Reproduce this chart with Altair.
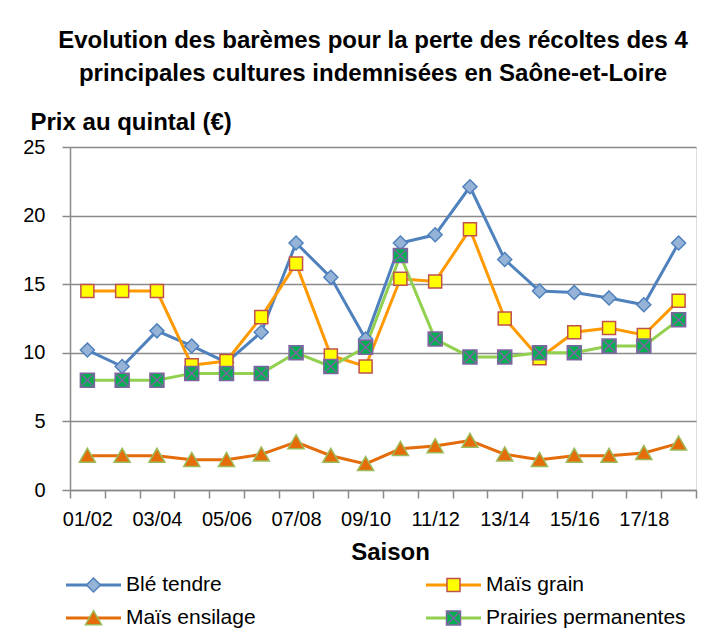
import altair as alt
import pandas as pd

# ---- data ----
seasons = ["01/02", "02/03", "03/04", "04/05", "05/06", "06/07", "07/08", "08/09", "09/10",
           "10/11", "11/12", "12/13", "13/14", "14/15", "15/16", "16/17", "17/18", "18/19"]
series_names = ["Blé tendre", "Maïs grain", "Maïs ensilage", "Prairies permanentes"]

ble_tendre = [10.2, 9.0, 11.6, 10.5, 9.3, 11.5, 18.0, 15.5, 11.0, 18.0, 18.6, 22.1, 16.8, 14.5, 14.4, 14.0, 13.5, 18.0]
mais_grain = [14.5, 14.5, 14.5, 9.1, 9.4, 12.6, 16.5, 9.8, 9.0, 15.4, 15.2, 19.0, 12.5, 9.6, 11.5, 11.8, 11.3, 13.8]
mais_ensilage = [2.5, 2.5, 2.5, 2.2, 2.2, 2.6, 3.5, 2.5, 1.9, 3.0, 3.2, 3.6, 2.6, 2.2, 2.5, 2.5, 2.7, 3.4]
prairies = [8.0, 8.0, 8.0, 8.5, 8.5, 8.5, 10.0, 9.0, 10.4, 17.1, 11.0, 9.7, 9.7, 10.0, 10.0, 10.5, 10.5, 12.4]

y_ticks = [0, 5, 10, 15, 20, 25]
shown_labels = seasons[::2]

# ---- styles ----
line_colors = ["#4F81BD", "#FF9900", "#E46C0A", "#92D050"]
marker_fills = ["#95B3D7", "#FFFF00", "#E46C0A", "#00B050"]
marker_strokes = ["#4F81BD", "#C0504D", "#9BBB59", "#8064A2"]
marker_paths = [
    "M0,-1L1,0L0,1L-1,0Z",
    "M-0.93,-0.93H0.93V0.93H-0.93Z",
    "M0,-1.05L1.15,0.95H-1.15Z",
    "M-1,-1H1V1H-1Z M-0.85,-0.85L0.85,0.85 M0.85,-0.85L-0.85,0.85",
]
GREY = "#8a8a8a"
FONT = "Liberation Sans"
LEG_FS = 21

values_by_series = [ble_tendre, mais_grain, mais_ensilage, prairies]
rows = []
for s_i, (name, vals) in enumerate(zip(series_names, values_by_series)):
    for t_i, (season, v) in enumerate(zip(seasons, vals)):
        rows.append({"season": season, "series": name, "value": v, "sidx": s_i, "tidx": t_i})
df = pd.DataFrame(rows)

label_list = ",".join("'" + s + "'" for s in shown_labels)

x_enc = alt.X(
    "season:N", sort=seasons,
    scale=alt.Scale(type="band", paddingInner=0, paddingOuter=0),
    axis=alt.Axis(
        title="Saison", titleFont=FONT, titleFontSize=24, titleFontWeight="bold",
        titleColor="black", titleX=320, titleY=69, titleBaseline="alphabetic", titleAlign="center",
        labelExpr="indexof([" + label_list + "], datum.value) >= 0 ? datum.label : ''",
        labelAngle=0, labelFont=FONT, labelFontSize=20, labelColor="black",
        labelPadding=11, labelOverlap=False, tickSize=8, tickBand="extent",
        tickColor=GREY, tickWidth=1.5, domainColor=GREY, domainWidth=1.5, grid=False,
    ),
)
y_enc = alt.Y(
    "value:Q",
    scale=alt.Scale(domain=[0, 25], nice=False),
    axis=alt.Axis(
        values=y_ticks, title="Prix au quintal (€)", titleAngle=0, titleAlign="left",
        titleBaseline="alphabetic", titleX=-40, titleY=-18, titleFont=FONT,
        titleFontSize=24, titleFontWeight="bold", titleColor="black",
        labelFont=FONT, labelFontSize=20, labelColor="black", labelPadding=17,
        tickSize=8, tickColor=GREY, tickWidth=1.5, domainColor=GREY, domainWidth=1.5,
        grid=True, gridColor=GREY, gridWidth=1.5,
    ),
)

line_legend = alt.Legend(
    title=None, orient="none", direction="horizontal", legendX=-5.5, legendY=425.5,
    columns=2, columnPadding=168, rowPadding=8, symbolType="stroke", symbolSize=3025,
    symbolStrokeWidth=3, labelOpacity=0, labelFont=FONT, labelFontSize=LEG_FS,
    labelOffset=3.5, labelLimit=400, clipHeight=25, padding=0,
)
marker_legend = alt.Legend(
    title=None, orient="none", direction="horizontal", legendX=-5.5, legendY=425.5,
    columns=2, columnPadding=168, rowPadding=8, symbolSize=196, symbolStrokeWidth=1.5,
    symbolOpacity=1, labelFont=FONT, labelFontSize=LEG_FS, labelColor="black",
    labelOffset=22, labelLimit=400, symbolOffset=18.5, clipHeight=25, padding=0,
)

lines = alt.Chart(df).mark_line(strokeWidth=3).encode(
    x=x_enc, y=y_enc,
    color=alt.Color("series:N", sort=series_names,
                    scale=alt.Scale(domain=series_names, range=line_colors),
                    legend=line_legend),
    order=alt.Order("tidx:Q"),
)

points = alt.Chart(df).mark_point(filled=True, opacity=1, size=196, strokeWidth=1.5).encode(
    x=x_enc, y=y_enc,
    fill=alt.Fill("series:N", sort=series_names,
                  scale=alt.Scale(domain=series_names, range=marker_fills),
                  legend=marker_legend),
    stroke=alt.Stroke("series:N", sort=series_names,
                      scale=alt.Scale(domain=series_names, range=marker_strokes),
                      legend=marker_legend),
    shape=alt.Shape("series:N", sort=series_names,
                    scale=alt.Scale(domain=series_names, range=marker_paths),
                    legend=marker_legend),
    order=alt.Order("sidx:Q"),
)

chart = alt.layer(lines, points).resolve_legend(
    color="independent", fill="independent", stroke="independent", shape="independent"
).properties(
    width=626, height=343,
    autosize=alt.AutoSizeParams(type="none"),
    padding={"left": 62, "top": 139, "right": 10, "bottom": 140},
    title=alt.TitleParams(
        text=["Evolution des barèmes pour la perte des récoltes des 4",
              "principales cultures indemnisées en Saône-et-Loire"],
        font=FONT, fontSize=24, fontWeight="bold", color="black",
        anchor="middle", dx=-10, offset=24, lineHeight=33,
    ),
).configure_view(stroke="transparent").configure(background="white")

chart.save("out.html", embed_options={"renderer": "svg", "actions": False})
